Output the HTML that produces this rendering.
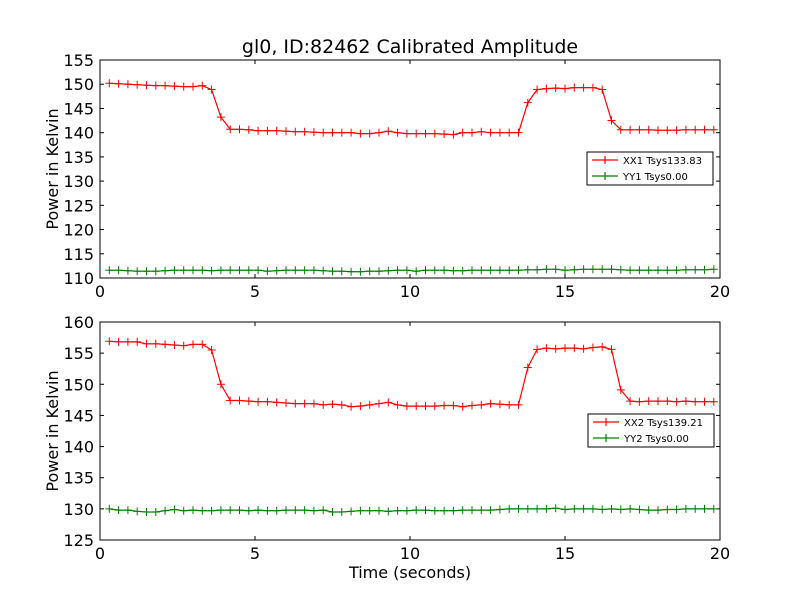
<!DOCTYPE html>
<html><head><meta charset="utf-8"><style>
body{margin:0;background:#fff;font-family:"Liberation Sans","DejaVu Sans",sans-serif}
svg text{font-family:"DejaVu Sans","Liberation Sans",sans-serif}
</style></head><body>
<svg id="c" width="800" height="600" viewBox="0 0 800 600"></svg>
<script>
const xx1=[150.2,150.1,150.0,149.9,149.8,149.7,149.7,149.6,149.5,149.5,149.7,148.9,143.2,140.7,140.7,140.6,140.4,140.4,140.4,140.3,140.2,140.2,140.1,140.0,140.0,140.0,140.0,139.8,139.8,140.0,140.3,140.0,139.8,139.8,139.8,139.8,139.7,139.6,140.0,140.0,140.2,140.0,140.0,140.0,140.0,146.2,148.9,149.1,149.2,149.1,149.3,149.3,149.3,148.9,142.5,140.6,140.6,140.6,140.6,140.5,140.5,140.5,140.6,140.6,140.6,140.6];
const yy1=[111.6,111.6,111.5,111.4,111.4,111.4,111.5,111.6,111.6,111.6,111.6,111.5,111.6,111.6,111.6,111.6,111.6,111.4,111.5,111.6,111.6,111.6,111.6,111.5,111.4,111.4,111.3,111.3,111.4,111.4,111.5,111.6,111.6,111.4,111.6,111.6,111.6,111.5,111.5,111.6,111.6,111.6,111.6,111.6,111.6,111.7,111.7,111.8,111.8,111.6,111.7,111.8,111.8,111.8,111.8,111.7,111.6,111.6,111.6,111.6,111.6,111.6,111.7,111.7,111.7,111.8];
const xx2=[156.9,156.8,156.8,156.8,156.5,156.5,156.4,156.3,156.2,156.4,156.4,155.5,150.0,147.4,147.4,147.3,147.2,147.2,147.1,147.0,146.9,146.9,146.9,146.7,146.8,146.7,146.4,146.5,146.7,146.9,147.1,146.7,146.5,146.5,146.5,146.5,146.6,146.6,146.4,146.6,146.7,146.9,146.8,146.7,146.7,152.7,155.6,155.8,155.7,155.8,155.8,155.7,155.9,156.0,155.6,149.1,147.3,147.2,147.3,147.3,147.3,147.2,147.3,147.2,147.2,147.2];
const yy2=[130.0,129.8,129.8,129.6,129.5,129.5,129.7,129.9,129.7,129.8,129.7,129.7,129.8,129.8,129.8,129.7,129.8,129.7,129.7,129.8,129.8,129.8,129.7,129.8,129.5,129.5,129.6,129.7,129.7,129.7,129.6,129.7,129.7,129.8,129.8,129.7,129.7,129.7,129.8,129.8,129.8,129.8,129.9,130.0,130.0,130.0,130.0,130.0,130.1,129.9,130.0,130.0,130.0,129.9,130.0,129.9,130.0,129.9,129.8,129.8,129.9,129.9,130.0,130.0,130.0,130.0];
const xTicks=[0,5,10,15,20];
const yTicks1=[110,115,120,125,130,135,140,145,150,155];
const yTicks2=[125,130,135,140,145,150,155,160];
const labels1=["XX1 Tsys133.83","YY1 Tsys0.00"];
const labels2=["XX2 Tsys139.21","YY2 Tsys0.00"];
const times=xx1.map((_,i)=>0.3+0.3*i);

const svg=document.getElementById('c');
const NS='http://www.w3.org/2000/svg';
function mk(t,a,p){const e=document.createElementNS(NS,t);for(const k in a)e.setAttribute(k,a[k]);(p||svg).appendChild(e);return e;}
function txt(s,x,y,size,anchor,p){const e=mk('text',{x:x,y:y,'font-size':size,'text-anchor':anchor||'middle',fill:'#000'},p);e.textContent=s;return e;}

function panel(name,top,bot,ymin,ymax,yt,s1,s2,labs,leg){
  const L=100,R=720;
  const g=mk('g',{});
  
  
  const X=v=>L+(v-0)/(20-0)*(R-L);
  const Y=v=>bot-(v-ymin)/(ymax-ymin)*(bot-top);
  mk('rect',{x:L,y:top,width:R-L,height:bot-top,fill:'#fff',stroke:'#000','stroke-width':1},g);
  xTicks.forEach(t=>{const x=X(t);
    mk('line',{x1:x,x2:x,y1:bot,y2:bot-4,stroke:'#000'},g);
    mk('line',{x1:x,x2:x,y1:top,y2:top+4,stroke:'#000'},g);
    const e=txt(t,x,bot+19,16,'middle',g);
    
    });
  yt.forEach(t=>{const y=Y(t);
    mk('line',{x1:L,x2:L+4,y1:y,y2:y,stroke:'#000'},g);
    mk('line',{x1:R,x2:R-4,y1:y,y2:y,stroke:'#000'},g);
    const e=txt(t,L-6,y+6,16,'end',g);
    
    });
  const yl=txt('Power in Kelvin',0,0,16,'middle',g);
  yl.setAttribute('transform','translate(58,'+((top+bot)/2)+') rotate(-90)');
  
  
  [[s1,'#ff0000'],[s2,'#008000']].forEach(([s,c],k)=>{
    const pts=s.map((v,i)=>X(times[i]).toFixed(1)+','+Y(v).toFixed(1)).join(' ');
    const pl=mk('polyline',{points:pts,fill:'none',stroke:c,'stroke-width':1.2},g);
    
    
    s.forEach((v,i)=>{const x=X(times[i]),y=Y(v);
      const m=mk('path',{d:`M${x-4},${y}H${x+4}M${x},${y-4}V${y+4}`,stroke:c,'stroke-width':1},g);
      
      });
  });
  const lg=mk('g',{},g);
  
  
  mk('rect',{x:leg[0],y:leg[1],width:126,height:33,fill:'#fff',stroke:'#000'},lg);
  labs.forEach((l,i)=>{const c=i?'#008000':'#ff0000';const y=leg[1]+8+i*16;
    mk('path',{d:`M${leg[0]+5},${y}H${leg[0]+31}M${leg[0]+18},${y-4}V${y+4}`,stroke:c,'stroke-width':1.2},lg);
    const e=txt(l,leg[0]+36,y+4,10,'start',lg);
    
    });
}
const t=txt('gl0, ID:82462 Calibrated Amplitude',410,53,19,'middle');


panel('top-panel',60,278,110,155,yTicks1,xx1,yy1,labels1,[587,152]);
panel('bottom-panel',322,540,125,160,yTicks2,xx2,yy2,labels2,[588,414]);
const xl=txt('Time (seconds)',410,578,16,'middle');


</script>
</body></html>
